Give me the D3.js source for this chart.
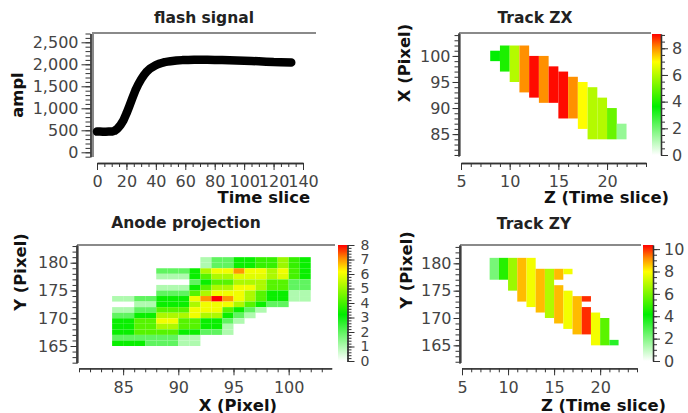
<!DOCTYPE html>
<html>
<head>
<meta charset="utf-8">
<script src="https://d3js.org/d3.v7.min.js"></script>
<style>
  body { margin: 0; background: #fff; }
  svg text { font-family: "DejaVu Sans", sans-serif; }
  .tick text { fill: #444; font-size: 16px; }
  .tick line, .domain { stroke: #333; }
  .title { font-weight: bold; font-size: 15.5px; fill: #222; }
  .atitle { font-weight: bold; font-size: 16.4px; fill: #111; }
  .dense .tick text { font-size: 14px; }
</style>
</head>
<body>
<svg id="chart" width="688" height="413"></svg>
<script>

// ---- flash signal (amplitude per time slice)
const flashT   = [0, 2, 4, 6, 8, 10, 12, 14, 16, 18, 20, 22, 24, 26, 28, 30, 32, 34, 36, 38, 40, 42, 44, 46, 48, 50,
                  54, 58, 62, 66, 70, 75, 80, 85, 90, 95, 100, 105, 110, 115, 120, 125, 132];
const flashAmp = [470, 470, 468, 468, 470, 472, 490, 540, 620, 730, 880, 1050, 1230, 1400, 1540, 1660, 1760, 1840, 1900, 1940, 1980, 2010, 2030, 2050, 2060, 2070,
                  2085, 2095, 2100, 2105, 2105, 2105, 2100, 2095, 2090, 2085, 2080, 2075, 2070, 2060, 2050, 2045, 2040];
const flashYTicks = [0, 500, 1000, 1500, 2000, 2500];
const flashXTicks = [0, 20, 40, 60, 80, 100, 120, 140];

// ---- track ZX : one run of X pixels per time slice
const zxZ   = [8, 9, 10, 11, 12, 13, 14, 15, 16, 17, 18, 19, 20, 21];
const zxLo  = [99, 97, 95, 93, 92, 91, 91, 88, 88, 86, 84, 84, 84, 84];
const zxHi  = [100, 101, 101, 101, 99, 99, 97, 96, 95, 94, 93, 91, 89, 86];
const zxVal = [3.6, 4, 6, 8, 9, 8, 9, 9, 8, 7, 6, 6, 5, 1.5];

// ---- track ZY : runs of Y pixels per time slice (some slices have two runs)
const zyZ   = [8, 9, 10, 11, 12, 13, 14, 15, 15, 16, 16, 17, 18, 18, 19, 20, 21];
const zyLo  = [177, 177, 175, 173, 172, 171, 170, 177, 169, 178, 168, 167, 173, 167, 165, 165, 165];
const zyHi  = [180, 180, 180, 180, 180, 178, 178, 178, 175, 178, 174, 173, 173, 171, 170, 169, 165];
const zyVal = [2.2, 4.7, 6.5, 8.7, 7.8, 8.7, 6.8, 8.7, 8.7, 7.8, 7.8, 8.7, 10, 10, 7.8, 5.5, 3.5];

// ---- anode projection : charge per (X, Y) pixel
const anodeX = d3.range(84, 102);
const anodeY = [180, 179, 178, 177, 176, 175, 174, 173, 172, 171, 170, 169, 168, 167, 166, 165];
const anodeQ = [
  [0,0,0,0,0,0,0,0, 1,2,2,3.3,3.3,3.8,3.8,5,3.8,3.3],
  [0,0,0,0,0,0,0,0, 1,2,2,3.3,3.3,3.8,3.8,5,3.8,3.3],
  [0,0,0,0, 2,2,2,3.3,5.2,6,6,7,6,6,5.2,6,4,3.3],
  [0,0,0,0, 1,1,1,3.3,4.2,5.2,5.2,5.8,5.8,5.8,5.2,5.8,4,3.3],
  [0,0,0,0, 0,0,0,2,3.3,4.2,4.2,5.2,5.2,5.2,4.2,4.2,2,2],
  [0,0,0,0, 1,1,1,3.3,4.2,5.2,5.2,6,6,5.2,4.2,4.2,2,2],
  [0,0,0,0, 2,2,2,4.2,5.2,6,6,6,5.2,4.2,3.3,3.3,1,1],
  [1,1,2,2, 3.3,3.3,3.3,6,7,8,7,6,5.2,4.2,3.3,3.3,1,1],
  [0,0,1,1, 3.3,3.3,3.3,5.2,6,6,6,5.2,4.2,3.3,2,2,0,0],
  [1,1,2,2, 4.2,4.2,4.2,6,6,6,4.2,3.3,2,1,0,0,0,0],
  [2,2,3.3,3.3, 5.2,5.2,5.2,6,5.2,5.2,3.3,2,1,0,0,0,0,0],
  [3.3,3.3,4.2,4.2, 6,6,4.2,4.2,3.3,3.3,2,1,0,0,0,0,0,0],
  [3.3,3.3,4.2,4.2, 5.2,5.2,4.2,4.2,3.3,3.3,1,0,0,0,0,0,0,0],
  [3.3,3.3,4.2,4.2, 4.2,4.2,3.3,3.3,2,2,1,0,0,0,0,0,0,0],
  [2,2,2,2, 2,2,1,1,0,0,0,0,0,0,0,0,0,0],
  [3.3,3.3,3.3,2, 2,2,1,1,0,0,0,0,0,0,0,0,0,0]
];

const pixTicks  = [85, 90, 95, 100];
const zTicks    = [5, 10, 15, 20];
const yPixTicks = [165, 170, 175, 180];

// palette : white -> green -> yellow -> orange -> red
const palStops  = [0, 0.4, 0.77, 0.89, 1];
const palColors = ["#ffffff", "#00ee00", "#ffff00", "#ff8800", "#ff0000"];

const svg = d3.select("#chart");

const defs = svg.append("defs");
const grad = defs.append("linearGradient").attr("id", "pal")
  .attr("x1", 0).attr("y1", 1).attr("x2", 0).attr("y2", 0);
palStops.forEach((s, i) => grad.append("stop").attr("offset", s).attr("stop-color", palColors[i]));

function heatColor(max) {
  return d3.scaleLinear().domain(palStops.map(s => s * max)).range(palColors);
}

function axis(g, gen, scale, major, minorStep, majLen, minLen, fmt, pad) {
  const d = scale.domain();
  const minor = d3.range(Math.ceil(d[0] / minorStep) * minorStep, d[1] + 1e-9, minorStep);
  g.append("g").call(gen(scale).tickValues(minor).tickSize(minLen).tickFormat("").tickSizeOuter(0));
  g.append("g").call(gen(scale).tickValues(major).tickSize(majLen).tickPadding(pad).tickFormat(fmt).tickSizeOuter(0));
  g.selectAll(".domain").attr("stroke-width", 1.3);
}

function frame(x0, x1, y0, y1) {
  svg.append("path")
    .attr("d", "M" + x0 + "," + y1 + "V" + y0 + "H" + x1)
    .attr("fill", "none").attr("stroke", "#8a8a8a").attr("stroke-width", 2);
}

function title(txt, x, y) {
  svg.append("text").attr("class", "title").attr("x", x).attr("y", y)
    .attr("text-anchor", "middle").text(txt);
}

function xTitle(txt, x, y) {
  svg.append("text").attr("class", "atitle").attr("x", x).attr("y", y)
    .attr("text-anchor", "end").text(txt);
}

function yTitle(txt, x, y) {
  svg.append("text").attr("class", "atitle")
    .attr("transform", "translate(" + x + "," + y + ") rotate(-90)")
    .attr("text-anchor", "middle").text(txt);
}

function colorBar(x, w, yTop, yBot, max, ticks, minorStep, dense) {
  svg.append("rect").attr("x", x).attr("y", yTop).attr("width", w).attr("height", yBot - yTop)
    .attr("fill", "url(#pal)");
  const s = d3.scaleLinear().domain([0, max]).range([yBot, yTop]);
  const g = svg.append("g").attr("transform", "translate(" + (x + w) + ",0)")
    .classed("dense", !!dense);
  axis(g, d3.axisRight, s, ticks, minorStep, 7, 4, d3.format("d"), dense ? 6 : 4);
}

// ================= flash signal
{
  const x = d3.scaleLinear().domain([0, 140]).range([97, 303]);
  const y = d3.scaleLinear().domain([-100, 2700]).range([156.7, 33.5]);

  title("flash signal", 204, 23);
  frame(93, 316, 33, 157);

  axis(svg.append("g").attr("transform", "translate(90.5,0)"),
       d3.axisLeft, y, flashYTicks, 100, 9, 5, d3.format(","), 3);
  axis(svg.append("g").attr("transform", "translate(0,163)"),
       d3.axisBottom, x, flashXTicks, 5, 7, 4, d3.format("d"), 6);

  svg.append("path")
    .datum(flashT.map((t, i) => [t, flashAmp[i]]))
    .attr("fill", "none").attr("stroke", "#000")
    .attr("stroke-width", 8.5)
    .attr("stroke-linecap", "round").attr("stroke-linejoin", "round")
    .attr("d", d3.line().x(d => x(d[0])).y(d => y(d[1])));

  yTitle("ampl", 23, 95);
  xTitle("Time slice", 310, 203);
}

// ================= track ZX
{
  const x = d3.scaleLinear().domain([5, 24]).range([461, 646]);
  const y = d3.scaleLinear().domain([80.8, 104.4]).range([156, 33]);
  const c = heatColor(9.07);

  title("Track ZX", 535, 23);

  svg.append("g").selectAll("rect")
    .data(zxZ.map((z, i) => ({z: z, lo: zxLo[i], hi: zxHi[i], v: zxVal[i]})))
    .enter().append("rect")
    .attr("x", d => x(d.z)).attr("width", d => x(d.z + 1) - x(d.z))
    .attr("y", d => y(d.hi + 1)).attr("height", d => y(d.lo) - y(d.hi + 1))
    .attr("fill", d => c(d.v));

  frame(460, 651, 33, 156);
  axis(svg.append("g").attr("transform", "translate(458.5,0)"),
       d3.axisLeft, y, pixTicks, 1, 6, 4, d3.format("d"), 2);
  axis(svg.append("g").attr("transform", "translate(0,163)"),
       d3.axisBottom, x, zTicks, 1, 7, 4, d3.format("d"), 6);

  colorBar(652, 9, 34, 155, 9.07, [0, 2, 4, 6, 8], 0.5);

  yTitle("X (Pixel)", 410, 63);
  xTitle("Z (Time slice)", 669, 203);
}

// ================= anode projection
{
  const x = d3.scaleLinear().domain([81, 103.9]).range([79, 331.7]);
  const y = d3.scaleLinear().domain([161.94, 183.19]).range([363, 245]);
  const c = heatColor(8);

  title("Anode projection", 186, 228);

  const cells = [];
  anodeY.forEach((yy, r) => anodeX.forEach((xx, k) => {
    if (anodeQ[r][k] > 0) cells.push({x: xx, y: yy, v: anodeQ[r][k]});
  }));
  svg.append("g").selectAll("rect")
    .data(cells).enter().append("rect")
    .attr("x", d => x(d.x)).attr("width", d => x(d.x + 1) - x(d.x))
    .attr("y", d => y(d.y + 1)).attr("height", d => y(d.y) - y(d.y + 1))
    .attr("fill", d => c(d.v));

  frame(78, 335, 245, 363);
  axis(svg.append("g").attr("transform", "translate(76.5,0)"),
       d3.axisLeft, y, yPixTicks, 1, 6, 4, d3.format("d"), 2);
  axis(svg.append("g").attr("transform", "translate(0,368.3)"),
       d3.axisBottom, x, pixTicks, 1, 7, 4, d3.format("d"), 6);

  colorBar(338, 9.5, 245, 361, 8, [0, 1, 2, 3, 4, 5, 6, 7, 8], 0.2, true);

  yTitle("Y (Pixel)", 26, 272);
  xTitle("X (Pixel)", 277, 410.5);
}

// ================= track ZY
{
  const x = d3.scaleLinear().domain([5, 24]).range([462, 637]);
  const y = d3.scaleLinear().domain([161.77, 183.35]).range([363, 245]);
  const c = heatColor(10.37);

  title("Track ZY", 534, 229);

  svg.append("g").selectAll("rect")
    .data(zyZ.map((z, i) => ({z: z, lo: zyLo[i], hi: zyHi[i], v: zyVal[i]})))
    .enter().append("rect")
    .attr("x", d => x(d.z)).attr("width", d => x(d.z + 1) - x(d.z))
    .attr("y", d => y(d.hi + 1)).attr("height", d => y(d.lo) - y(d.hi + 1))
    .attr("fill", d => c(d.v));

  frame(461, 641, 245, 363);
  axis(svg.append("g").attr("transform", "translate(459.5,0)"),
       d3.axisLeft, y, yPixTicks, 1, 6, 4, d3.format("d"), 2);
  axis(svg.append("g").attr("transform", "translate(0,368.3)"),
       d3.axisBottom, x, zTicks, 1, 7, 4, d3.format("d"), 6);

  colorBar(643, 10, 245, 361, 10.37, [0, 2, 4, 6, 8, 10], 0.5);

  yTitle("Y (Pixel)", 412, 270);
  xTitle("Z (Time slice)", 666, 410.5);
}

</script>
</body>
</html>
